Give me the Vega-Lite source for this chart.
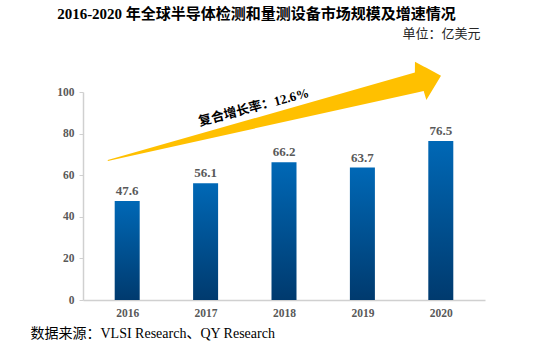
{
  "$schema": "https://vega.github.io/schema/vega-lite/v6.json",
  "width": 402,
  "height": 208,
  "autosize": {"type": "none"},
  "padding": {"left": 83, "top": 92, "right": 72, "bottom": 47},
  "background": "white",
  "config": {"view": {"stroke": null}},
  "datasets": {
    "bars": [
      {"year": 2016, "value": 47.6},
      {"year": 2017, "value": 56.1},
      {"year": 2018, "value": 66.2},
      {"year": 2019, "value": 63.7},
      {"year": 2020, "value": 76.5}
    ],
    "arrow": [
      {"t": 2015.7525, "top": 67.31, "bottom": 66.83},
      {"t": 2019.6692, "top": 109.33, "bottom": 99.54},
      {"t": 2019.6704, "top": 114.57, "bottom": 99.55},
      {"t": 2019.7817, "top": 112.31, "bottom": 100.48},
      {"t": 2019.8159, "top": 111.63, "bottom": 96.15},
      {"t": 2020.0025, "top": 107.84, "bottom": 107.84}
    ],
    "note": [
      {"t": 2017.614, "v": 92.55, "label": "复合增长率：12.6%"}
    ]
  },
  "layer": [
    {
      "data": {"name": "arrow"},
      "mark": {"type": "area", "color": "#FFC000", "opacity": 1},
      "encoding": {
        "x": {
          "field": "t", "type": "quantitative",
          "scale": {"domain": [2015.5, 2020.5], "nice": false, "zero": false},
          "axis": {
            "orient": "top", "domain": false, "labels": false, "ticks": false, "grid": false,
            "title": "2016-2020 年全球半导体检测和量测设备市场规模及增速情况",
            "titleFont": "Liberation Serif, Noto Sans CJK SC", "titleFontSize": 15, "titleFontWeight": "bold",
            "titleColor": "#000000", "titleX": 173, "titleY": -74, "titleAlign": "center", "titleBaseline": "alphabetic"
          }
        },
        "y": {"field": "top", "type": "quantitative", "scale": {"domain": [0, 100], "nice": false}, "axis": null},
        "y2": {"field": "bottom"}
      }
    },
    {
      "data": {"name": "bars"},
      "mark": {
        "type": "bar", "width": 25,
        "color": {"gradient": "linear", "x1": 0, "y1": 0, "x2": 0, "y2": 1,
          "stops": [{"offset": 0, "color": "#0068B6"}, {"offset": 1, "color": "#003A6E"}]}
      },
      "encoding": {
        "x": {
          "field": "year", "type": "quantitative",
          "scale": {"domain": [2015.5, 2020.5], "nice": false, "zero": false},
          "axis": {
            "orient": "bottom", "values": [2016, 2017, 2018, 2019, 2020], "format": "d",
            "grid": false, "ticks": false, "tickSize": 0, "domainColor": "#D0D0D0", "domainWidth": 1.5,
            "labelFont": "Liberation Serif", "labelFontSize": 11.5, "labelFontWeight": "bold", "labelColor": "#595959",
            "labelBaseline": "alphabetic", "labelPadding": 16.5,
            "title": "数据来源：VLSI Research、QY Research",
            "titleFont": "Liberation Serif, Noto Sans CJK SC", "titleFontSize": 14, "titleFontWeight": "normal",
            "titleColor": "#000000", "titleX": -53, "titleY": 37, "titleAlign": "left", "titleBaseline": "alphabetic"
          }
        },
        "y": {
          "field": "value", "type": "quantitative",
          "scale": {"domain": [0, 100], "nice": false},
          "axis": {
            "values": [0, 20, 40, 60, 80, 100], "grid": false, "tickSize": 4, "tickColor": "#D0D0D0",
            "domainColor": "#D0D0D0", "domainWidth": 1.5, "labelPadding": 5,
            "labelFont": "Liberation Serif", "labelFontSize": 11.5, "labelFontWeight": "bold", "labelColor": "#595959",
            "title": "单位：亿美元", "titleAngle": 0,
            "titleFont": "Noto Sans CJK SC", "titleFontSize": 13, "titleFontWeight": "normal",
            "titleColor": "#262626", "titleX": 397, "titleY": -55, "titleAlign": "right", "titleBaseline": "alphabetic"
          }
        }
      }
    },
    {
      "data": {"name": "bars"},
      "mark": {"type": "text", "baseline": "alphabetic", "dy": -6, "font": "Liberation Serif", "fontSize": 13, "fontWeight": "bold", "color": "#595959"},
      "encoding": {
        "x": {"field": "year", "type": "quantitative", "scale": {"domain": [2015.5, 2020.5], "nice": false, "zero": false}, "axis": null},
        "y": {"field": "value", "type": "quantitative", "scale": {"domain": [0, 100], "nice": false}, "axis": null},
        "text": {"field": "value", "type": "quantitative", "format": ".1f"}
      }
    },
    {
      "data": {"name": "note"},
      "mark": {"type": "text", "angle": 345, "align": "center", "baseline": "middle", "font": "Liberation Serif, Noto Sans CJK SC", "fontSize": 13, "fontWeight": "bold", "color": "#000000"},
      "encoding": {
        "x": {"field": "t", "type": "quantitative", "scale": {"domain": [2015.5, 2020.5], "nice": false, "zero": false}, "axis": null},
        "y": {"field": "v", "type": "quantitative", "scale": {"domain": [0, 100], "nice": false}, "axis": null},
        "text": {"field": "label"}
      }
    }
  ],
  "resolve": {"axis": {"x": "independent", "y": "independent"}}
}
